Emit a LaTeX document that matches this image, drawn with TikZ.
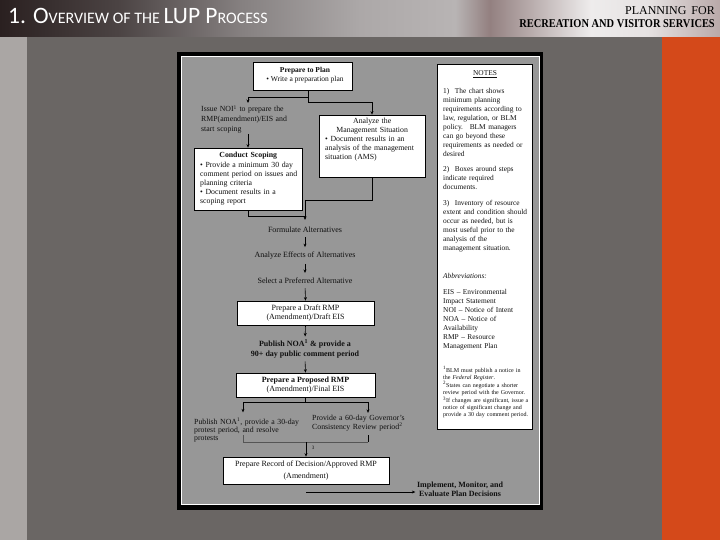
\documentclass[tikz,border=0pt]{standalone}
\usepackage{fontspec}
\usepackage{graphicx}
\setmainfont{Liberation Serif}
\newfontfamily\hdrfont{Carlito}
\usetikzlibrary{arrows.meta}
\definecolor{bgmain}{HTML}{6A6664}
\definecolor{stripL}{HTML}{AAA6A4}
\definecolor{orangeR}{HTML}{D4491A}
\definecolor{paperG}{HTML}{979797}
\definecolor{inkc}{HTML}{101010}
\definecolor{lnGray}{HTML}{555555}
\definecolor{hA}{HTML}{2A2020}
\definecolor{hB}{HTML}{4C4444}
\definecolor{hC}{HTML}{858080}
\definecolor{hD}{HTML}{ACA8A8}
\definecolor{hE}{HTML}{B8B4B4}
\definecolor{hF}{HTML}{938080}
\definecolor{hG}{HTML}{EEECEC}
\definecolor{hH}{HTML}{E6E2E2}
\definecolor{hI}{HTML}{B9A9A9}
\pgfdeclarehorizontalshading{hdrshade}{100bp}{color(0bp)=(hA); color(25bp)=(hA); color(33.33bp)=(hB); color(41.67bp)=(hC); color(50bp)=(hD); color(56.6bp)=(hE); color(59bp)=(hF); color(66bp)=(hG); color(70bp)=(hH); color(75bp)=(hI); color(100bp)=(hI)}
\newcommand\chf{\fontsize{8}{9.2}\selectfont}
\newcommand\ntf{\fontsize{7.4}{9}\selectfont}
\newcommand\ftf{\fontsize{6}{7}\selectfont}
\tikzset{
  boxw/.style={draw=black, fill=white, line width=0.7pt, inner sep=0pt},
  ctext/.style={inner sep=0pt, text=inkc, font=\chf, align=center},
  btext/.style={inner sep=0pt, text=inkc, font=\chf, anchor=base west},
  ln/.style={draw=black, line width=0.6pt},
  lnG/.style={draw=lnGray, line width=0.6pt},
  arr/.style={ln, -{Stealth[length=3.5pt,width=3pt]}},
  arrT/.style={arr, shorten <=4pt, shorten >=5pt},
}
\begin{document}
\begin{tikzpicture}[x=1pt,y=-1pt]
\useasboundingbox (0,0) rectangle (720,540);
% background
\fill[bgmain] (0,0) rectangle (720,540);
\fill[stripL] (0,37) rectangle (27,540);
\fill[orangeR] (662,37) rectangle (720,540);
\shade[shading=hdrshade] (0,0) rectangle (720,37);
% header texts
\node[anchor=base west, inner sep=0, text=white, font=\hdrfont] (title) at (8,24)
  {\fontsize{23.5}{23.5}\selectfont 1. O\fontsize{16}{16}\selectfont VERVIEW OF THE \fontsize{23.5}{23.5}\selectfont LUP P\fontsize{16}{16}\selectfont ROCESS};
\node[anchor=base east, inner sep=0, text=black, font=\fontsize{12}{12}\selectfont] (hdrR1) at (715,15) {PLANNING\hspace{5pt}FOR};
\node[anchor=base east, inner sep=0, text=black, font=\bfseries\fontsize{10.4}{11}\selectfont] (hdrR2) at (715,28) {\scalebox{1}[1.15]{RECREATION AND VISITOR SERVICES}};
% paper frame
\fill[black] (177,52) rectangle (543,510);
\fill[white] (181,56) rectangle (540,505);
\fill[paperG] (182.3,57.3) rectangle (539,503.7);

% Prepare to Plan
\node[boxw, minimum width=99pt, minimum height=28pt] (prep) at (302.5,76) {};
\node[ctext, font=\fontsize{7.5}{9}\selectfont] (prepT) at (305,75) {\textbf{Prepare to Plan}\\ • Write a preparation plan};

% NOI text
\node[btext, text width=104pt, font=\fontsize{7.8}{10}\selectfont] (noi) at (201,112)
  {Issue NOI\textsuperscript{1} to prepare the\\ RMP(amendment)/EIS and\\ start scoping};

% Conduct Scoping
\node[boxw, minimum width=108pt, minimum height=62pt] (scop) at (248,179) {};
\node[btext, text width=100pt, font=\fontsize{7.8}{9.2}\selectfont] (scopT) at (200,158)
  {\makebox[96pt]{\textbf{Conduct Scoping}}\\ • Provide a minimum 30 day\\ comment period on issues and\\ planning criteria\\ • Document results in a\\ scoping report};

% AMS
\node[boxw, minimum width=106pt, minimum height=62pt] (ams) at (372,146) {};
\node[btext, text width=98pt, font=\fontsize{7.8}{9}\selectfont] (amsT) at (325,124)
  {\makebox[94pt]{Analyze the}\\ \makebox[94pt]{Management Situation}\\ • Document results in an\\ analysis of the management\\ situation (AMS)};

% connectors top
\coordinate (pj1) at (308,97);
\coordinate (pj2) at (308,102);
\coordinate (nA) at (248,97);
\coordinate (nB) at (248,103);
\coordinate (nC) at (248,134);
\draw[ln] (pj1 |- prep.south) -- (pj2);
\draw[arr] (pj2) -| (ams.north);
\draw[ln] (pj1) -- (nA);
\draw[arr] (nA) -- (nB);
\draw[arr] (nC) -- (nC |- scop.north);

% join
\coordinate (jA) at (305,200);
\coordinate (jB) at (305,216);
\draw[ln] (ams.south) |- (jA);
\draw[ln] (scop.south) |- (jB);

% middle steps
\node[ctext] (form) at (305,230) {Formulate Alternatives};
\node[ctext] (anal) at (305,256) {Analyze Effects of Alternatives};
\node[ctext] (sel) at (305,281) {Select a Preferred Alternative};
\draw[arr, shorten >=7pt] (jA) -- (form.north);
\draw[arrT] (form.south) -- (anal.north);
\draw[arrT] (anal.south) -- (sel.north);

\node[boxw, ctext, minimum width=137pt, minimum height=24pt, font=\fontsize{8}{9}\selectfont] (draft) at (305.5,313) {Prepare a Draft RMP\\(Amendment)/Draft EIS};
\draw[arr, shorten <=4pt] (sel.south) -- (draft.north);

\node[ctext, font=\bfseries\fontsize{8}{10}\selectfont] (pub) at (305,349) {Publish NOA\textsuperscript{1} \& provide a\\ 90+ day public comment period};
\draw[arr, shorten >=3pt] (draft.south) -- (pub.north);

\node[boxw, ctext, minimum width=139pt, minimum height=24pt, font=\fontsize{8}{9}\selectfont] (prop) at (305.5,385) {\textbf{Prepare a Proposed RMP}\\(Amendment)/Final EIS};
\draw[arr, shorten <=3pt] (pub.south) -- (prop.north);

% branches
\coordinate (b0) at (305.5,402);
\coordinate (bl) at (243,402);
\coordinate (br) at (368,402);
\draw[ln] (prop.south) -- (b0);
\draw[ln] (bl) -- (br);
\node[btext, text width=120pt, font=\fontsize{7.8}{8.3}\selectfont] (pubL) at (194,424)
  {Publish NOA\textsuperscript{1}, provide a 30-day\\ protest period, and resolve\\ protests};
\node[btext, text width=112pt, font=\fontsize{7.8}{9}\selectfont] (gov) at (312,420)
  {Provide a 60-day Governor's\\ Consistency Review period\textsuperscript{2}};
\draw[arr, shorten >=5pt] (bl) -- (bl |- pubL.north);
\draw[arr, shorten >=1.5pt] (br) -- (br |- gov.north);

% bracket
\coordinate (kl) at (243,442);
\coordinate (kr) at (368,442);
\coordinate (km) at (306,442);
\draw[lnG] (kl) ++(0,-7) -- (kl) -- (kr);
\draw[ln] (kr) -- ++(0,-7);

\node[boxw, ctext, minimum width=166pt, minimum height=27pt, font=\fontsize{8}{12.5}\selectfont] (recd) at (306,470.5) {Prepare Record of Decision/Approved RMP\\(Amendment)};
\draw[arr] (km) -- (recd.north);
\node[inner sep=0, text=inkc, font=\fontsize{5}{5}\selectfont] (mk3) at (313,448) {3};

% implement
\coordinate (ia) at (306,492);
\node[ctext, font=\bfseries\fontsize{8}{9}\selectfont] (impl) at (460,489.5) {Implement, Monitor, and\\ Evaluate Plan Decisions};
\draw[arr, shorten >=1.5pt] (ia) -- (ia -| impl.west);

% NOTES panel
\node[boxw, line width=0.6pt, minimum width=95pt, minimum height=365pt] (notes) at (484.5,246.5) {};
\node[inner sep=0, text=inkc, font=\fontsize{7.4}{8}\selectfont] (notesT) at (485,74) {\underline{NOTES}};
\node[btext, text width=88pt, font=\ntf] (n1) at (443,94)
  {1)\hspace{3pt} The chart shows\\ minimum planning\\ requirements according to\\ law, regulation, or BLM\\ policy.\hspace{3pt} BLM managers\\ can go beyond these\\ requirements as needed or\\ desired};
\node[btext, text width=88pt, font=\ntf] (n2) at (443,172)
  {2)\hspace{3pt} Boxes around steps\\ indicate required\\ documents.};
\node[btext, text width=88pt, font=\ntf] (n3) at (443,205.5)
  {3)\hspace{3pt} Inventory of resource\\ extent and condition should\\ occur as needed, but is\\ most useful prior to the\\ analysis of the\\ management situation.};
\node[btext, text width=88pt, font=\ntf] (abh) at (443,278.5) {\textit{Abbreviations:}};
\node[btext, text width=88pt, font=\ntf] (abl) at (443,294.7)
  {EIS -- Environmental\\ Impact Statement\\ NOI -- Notice of Intent\\ NOA -- Notice of\\ Availability\\ RMP -- Resource\\ Management Plan};
\node[btext, text width=89pt, font=\ftf] (fnt) at (443,372.4)
  {\textsuperscript{1}BLM must publish a notice in\\ the \textit{Federal Register}.\\ \textsuperscript{2}States can negotiate a shorter\\ review period with the Governor.\\ \textsuperscript{3}If changes are significant, issue a\\ notice of significant change and\\ provide a 30 day comment period.};
\end{tikzpicture}
\end{document}
